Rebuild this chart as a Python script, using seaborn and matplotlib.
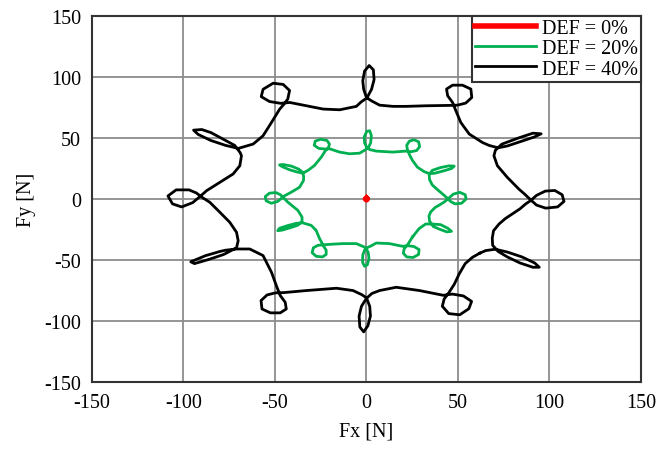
import matplotlib
matplotlib.use("Agg")
import matplotlib.pyplot as plt
import seaborn as sns

# DEF = 0% : stays at the origin
red_fx = [0.0, 0.5, 0.0, -0.5, 0.0]
red_fy = [0.7, 0.0, -0.7, 0.0, 0.7]

# DEF = 20% (green), counter-clockwise
green_fx = [25.2, 28.8, 32.4, 35.5, 40.5, 44.5, 46.5, 44, 40, 36.5, 34.5, 34.2, 35.1, 37.5, 39.6, 42.5,
            44.5, 47.5, 51, 54, 54.5, 52, 48.5, 46, 44.5, 42.5, 39, 36, 34.5, 34.3, 36, 40.5, 45, 48,
            46.5, 42, 37.5, 34.5, 31.5, 27.9, 25.2, 23.8, 22.5, 22, 23.5, 26, 28.5, 29.1, 27.5, 24.5,
            21.5, 14.4, 5.4, 2, 0.3, -1, -1.2, 0.2, 1.8, 2.7, 2.3, 1, -1, -3.7, -9.2, -14.7, -20.1,
            -22.5, -26, -28.5, -28, -25, -21.5, -20.2, -20.8, -22.5, -24.7, -28.4, -32, -34.8, -38,
            -42, -46, -47.5, -45.5, -41, -37, -34.8, -34.3, -34.4, -36.6, -41.2, -44.9, -46.5, -48.5,
            -52, -54.8, -55.3, -53, -49.5, -47, -45, -43, -37.5, -35.2, -35.2, -37.5, -41.5, -46,
            -48.5, -47.5, -43, -38.5, -35, -30.2, -27.5, -25.6, -24.5, -23.5, -22, -22, -24, -27.5,
            -29.7, -29, -26.5, -23, -18, -12.8, -5.5, -1, 0, 1, 1.4, 0.5, -1, -2.1, -2, -1, 0.3, 2.5,
            5.4, 12.6, 19.8, 22.5, 26, 28.8, 28.5, 25.5, 22, 20.2, 20.6, 22.5, 25.2]
green_fy = [-31.1, -24.3, -20.5, -20.5, -21, -24, -26.5, -27, -24.8, -22.5, -18, -14, -10.7, -7, -5.2,
            -2.5, 0, 4, 5.5, 3.5, 0, -3.5, -4, -2, 0.3, 3, 7.5, 11.5, 16, 20, 23.5, 25.8, 27.2, 27,
            25, 23, 21.2, 20.8, 22.5, 26.1, 31.6, 35.5, 40, 44, 47.5, 48.6, 47, 43, 39.8, 38.8, 39.3,
            38.5, 39.3, 40.5, 42, 46, 51, 55.5, 56, 52, 46, 42, 40, 37.6, 37.1, 38.5, 41.2, 41, 41.5,
            44, 47.5, 49, 48, 45, 42, 39.5, 34.3, 27.5, 23.4, 21.2, 22.2, 24, 26.5, 28, 28.3, 27,
            24.5, 21.8, 18.5, 15.1, 9.6, 5.5, 2.5, 0.5, -2, -3.5, -1.5, 2, 4.8, 5.3, 3.5, 0.5, -2.5,
            -9.3, -14.8, -18.5, -21.5, -23.5, -25.5, -26, -24, -21.8, -20, -19.5, -21.6, -25.7,
            -32.5, -35.5, -38.5, -42, -45.5, -47.5, -47, -44, -40, -38, -37.5, -37, -36.6, -36.6,
            -39.5, -41, -44, -49, -54, -55.2, -52, -46, -42, -40, -38.5, -36.1, -36.6, -38.8, -38.3,
            -39, -41.5, -45.5, -48, -47.5, -44.5, -41, -37.5, -31.1]

# DEF = 40% (black), counter-clockwise
black_fx = [61.9, 65.2, 70.5, 77, 85, 92, 94.5, 91, 84, 77, 72, 69, 68.8, 69.5, 72.5, 76, 79.7, 84, 87,
            89.7, 93, 97.8, 103, 107, 108, 104.5, 98, 93, 90, 86.5, 83.3, 77, 71.6, 69.7, 70.5, 74, 83,
            91, 95.5, 92, 84, 77, 72, 67, 63.4, 56.2, 51.6, 48.9, 47.1, 44.4, 43.8, 47.1, 52.5, 57.1,
            57.6, 54.3, 49.8, 45.3, 32.6, 21.7, 14.5, 7.2, 2.7, 0, -1.5, -2, -1, 1.5, 3.8, 4.2, 2.8,
            0.3, -3, -5.5, -14.6, -23.7, -32.8, -41.9, -47, -53, -57.5, -56.5, -51, -45.5, -42, -43,
            -45.5, -47.4, -51.9, -56.5, -61.9, -70.1, -77, -85, -92, -94.5, -90, -85, -77, -72, -69,
            -68.3, -69.2, -72.9, -80.1, -87.4, -91, -95, -101, -106, -108.5, -104, -97, -93, -90,
            -85.6, -80.1, -74.7, -71, -70.1, -71, -78, -86, -94, -96, -88, -80, -77, -71, -63.8, -56.5,
            -51.9, -48.9, -47.1, -44.4, -43.8, -47.1, -52.5, -57.1, -57.6, -54.3, -49.8, -45.3, -32.8,
            -16.4, -7.3, -2.5, 0, 1.8, 2.2, 0.8, -1.5, -3.6, -4, -2.7, 0, 3, 7.2, 16.3, 29, 37, 42, 47,
            53, 57.5, 56, 51, 45, 41.5, 42.5, 45, 48, 50.7, 54, 58, 61.9]
black_fy = [-44.5, -42.3, -41.2, -43.5, -47.5, -52.5, -56, -56, -52.5, -47.5, -43, -38, -32, -26, -20.5,
            -16, -12.3, -8, -4.1, -1.4, 3, 6.5, 7, 3.5, -2, -6.5, -7.5, -5, -1, 4, 8.2, 17.8, 27.3,
            35.5, 40, 45, 50, 54, 53.5, 51, 47, 43.5, 42, 44, 46.4, 53.3, 62.8, 72.4, 79.2, 84.7, 90.2,
            93.4, 93.4, 90.2, 83.3, 78.7, 77, 76.8, 76.5, 76, 76, 77, 80.6, 83.3, 90, 97, 105, 109.5,
            106, 98, 90, 83, 79.5, 76, 73.2, 73.8, 76.5, 79.2, 78.5, 80, 84, 90, 95, 94, 89, 82, 77,
            73.8, 62.8, 51.9, 45.1, 41.5, 44, 48, 53, 56.5, 57, 54.5, 48, 44, 38, 35.5, 27.3, 20.5,
            13.7, 6.8, 2, -3, -6.5, -4, 2.5, 7.5, 7.5, 5, 1.5, -2.7, -10.9, -19.1, -27.3, -34.2, -40,
            -45.5, -49.5, -53, -51.5, -46.5, -43, -42, -41, -41, -46.4, -60.1, -72.4, -79.2, -84.7,
            -90.2, -93.4, -93.4, -90.2, -83.3, -78.7, -77, -76.8, -75.1, -73.2, -75.1, -78.5, -81,
            -88, -96, -104, -109, -105, -96, -88, -81.5, -77.5, -75.1, -72.4, -75.1, -77.5, -79, -78,
            -79.5, -84, -90, -95, -94, -88, -82, -77, -70, -61.5, -53, -47.8, -44.5]

ticks = [-150, -100, -50, 0, 50, 100, 150]

plt.rcParams['font.family'] = ['Liberation Serif', 'DejaVu Serif']
plt.rcParams['axes.unicode_minus'] = False

fig = plt.figure(figsize=(6.62, 4.52), dpi=100)
ax = fig.add_axes([0.139, 0.153, 0.829, 0.809])

sns.lineplot(x=red_fx, y=red_fy, sort=False, estimator=None, color="#FF0000",
             linewidth=4, label="DEF = 0%", ax=ax, zorder=5)
sns.lineplot(x=green_fx, y=green_fy, sort=False, estimator=None, color="#00B050",
             linewidth=2.0, label="DEF = 20%", ax=ax, zorder=3, solid_joinstyle="round")
sns.lineplot(x=black_fx, y=black_fy, sort=False, estimator=None, color="black",
             linewidth=2.0, label="DEF = 40%", ax=ax, zorder=3, solid_joinstyle="round")

ax.set_xlim(-150, 150)
ax.set_ylim(-150, 150)
ax.set_xticks(ticks)
ax.set_yticks(ticks)
ax.grid(True, color="#8c8c8c", linewidth=1.3)
ax.set_axisbelow(True)
for s in ax.spines.values():
    s.set_color("#333333")
    s.set_linewidth(1.5)
ax.tick_params(length=0, pad=8, labelsize=14.5)
ax.set_xlabel("Fx [N]", fontsize=14.5, labelpad=7)
ax.set_ylabel("Fy [N]", fontsize=14.5, labelpad=6)

leg = ax.legend(loc="upper right", borderaxespad=0, fontsize=14.5, fancybox=False,
                framealpha=1, edgecolor="#333333", handlelength=3.0, handletextpad=0.3,
                labelspacing=0.05, borderpad=0.15)
leg.get_frame().set_linewidth(1.5)

fig.savefig("out.png", dpi=100)
